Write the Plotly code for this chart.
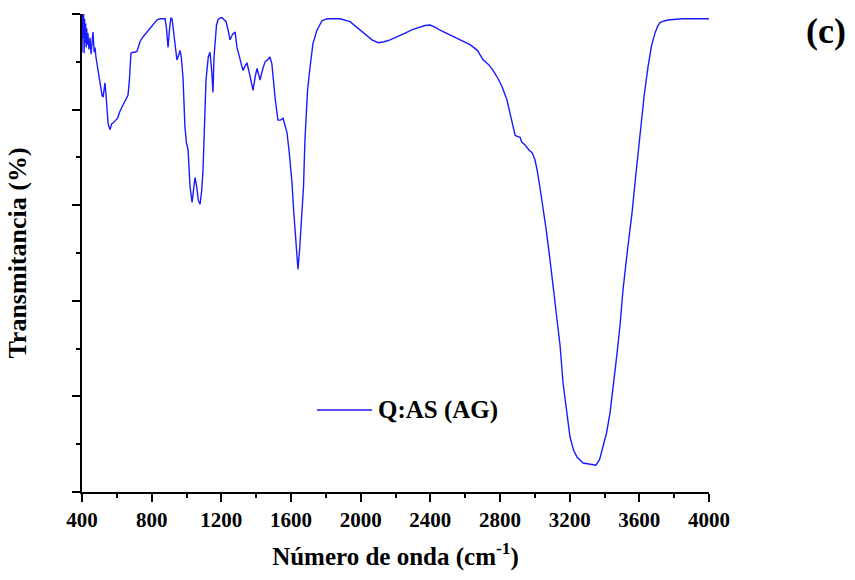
import plotly.graph_objects as go

# FTIR spectrum of Q:AS (AG): wavenumber (cm^-1) and transmittance (a.u.)
wavenumber = [
    400, 403, 406, 409, 412, 415, 418, 421, 424, 427, 430, 434, 440, 446, 452, 458,
    463, 470, 475, 480, 486, 492, 498, 503, 510, 515, 521, 527, 532, 540, 550, 561,
    570, 578, 590, 600, 607, 615, 630, 645, 658, 664, 672, 681, 693, 705, 716, 725,
    733, 750, 773, 800, 831, 850, 877, 885, 894, 903, 910, 917, 930, 945, 955, 963,
    970, 980, 991, 1000, 1009, 1020, 1032, 1040, 1049, 1058, 1068, 1078, 1087, 1095,
    1103, 1112, 1125, 1135, 1145, 1152, 1158, 1164, 1172, 1181, 1195, 1204, 1215,
    1227, 1240, 1250, 1265, 1279, 1290, 1307, 1324, 1335, 1347, 1365, 1382, 1395,
    1405, 1415, 1422, 1437, 1451, 1465, 1479, 1490, 1497, 1510, 1525, 1540, 1554,
    1565, 1577, 1590, 1606, 1615, 1623, 1632, 1640, 1650, 1663, 1672, 1680, 1695,
    1709, 1726, 1749, 1778, 1807, 1850, 1881, 1939, 1980, 2025, 2065, 2100, 2135,
    2169, 2210, 2255, 2300, 2341, 2370, 2398, 2430, 2456, 2513, 2570, 2628, 2670,
    2703, 2735, 2760, 2790, 2812, 2840, 2855, 2869, 2880, 2887, 2900, 2915, 2925,
    2944, 2965, 2984, 3000, 3013, 3030, 3047, 3067, 3087, 3107, 3127, 3145, 3162,
    3182, 3202, 3222, 3242, 3277, 3310, 3351, 3372, 3392, 3412, 3432, 3452, 3472,
    3490, 3506, 3530, 3558, 3580, 3604, 3628, 3650, 3670, 3690, 3705, 3719, 3745,
    3776, 3850, 3950, 4000,
]
transmittance = [
    46.0, 50.0, 47.5, 50.0, 45.9, 49.5, 47.0, 49.0, 46.5, 48.5, 46.8, 48.0, 46.3, 47.5, 45.8, 47.8,
    48.1, 46.0, 46.5, 45.5, 44.8, 44.5, 43.5, 43.3, 42.5, 41.5, 41.3, 42.5, 42.8, 41.0, 38.5, 37.9,
    38.5, 38.6, 38.8, 39.0, 39.2, 39.7, 40.3, 40.8, 41.2, 41.5, 43.0, 45.9, 46.0, 46.0, 46.1, 46.7,
    47.1, 47.6, 48.1, 48.8, 49.4, 49.5, 49.5, 48.5, 46.5, 48.5, 49.6, 49.5, 47.5, 45.2, 45.7, 46.2,
    45.5, 43.3, 38.2, 36.5, 35.8, 32.0, 30.3, 31.5, 32.9, 32.0, 30.5, 30.1, 31.5, 33.7,
    38.0, 43.1, 45.5, 46.0, 44.0, 41.8, 45.5, 47.3, 48.8, 49.4, 49.6, 49.6, 49.4,
    49.2, 48.2, 47.3, 47.9, 48.1, 46.5, 45.2, 44.1, 44.5, 44.9, 43.5, 42.0, 43.5,
    44.3, 43.6, 43.1, 44.2, 45.0, 45.2, 45.5, 44.8, 43.3, 41.0, 38.9, 38.9, 39.1,
    38.3, 37.6, 35.5, 32.3, 29.5, 27.1, 24.5, 23.3, 25.5, 28.8, 32.0, 36.8, 42.0,
    44.4, 46.9, 48.3, 49.3, 49.5, 49.5, 49.5, 49.2, 48.6, 47.9, 47.3, 47.0, 47.1,
    47.3, 47.6, 48.0, 48.4, 48.6, 48.8, 48.85, 48.6, 48.3, 47.8, 47.3, 46.8, 46.2,
    45.2, 44.7, 44.1, 43.2, 42.4, 41.0, 39.8, 38.6, 37.7, 37.3, 37.2, 37.1, 36.6,
    36.3, 35.8, 35.5, 34.8, 33.7, 31.8, 29.8, 27.2, 24.3, 21.3, 18.3, 15.3, 11.4,
    8.3, 5.75, 4.4, 3.66, 3.03, 2.95, 2.8, 3.4, 4.7, 6.2, 8.3, 11.2, 14.5,
    17.6, 21.1, 25.0, 29.2, 33.2, 37.5, 41.5, 44.5, 46.7, 48.0, 48.7, 49.1, 49.3,
    49.4, 49.5, 49.5, 49.5,
]
series_name = "Q:AS (AG)"
x_ticks = [400, 800, 1200, 1600, 2000, 2400, 2800, 3200, 3600, 4000]

FONT = "Liberation Serif"
BLUE = "#1a1aff"

fig = go.Figure()
fig.add_trace(go.Scatter(
    x=wavenumber, y=transmittance, mode="lines",
    line=dict(color=BLUE, width=1.4), name=series_name, showlegend=False,
))

axis_common = dict(showgrid=False, zeroline=False, showline=True,
                   linecolor="black", linewidth=2)

fig.update_layout(
    width=855, height=580,
    margin=dict(l=82, r=146, t=14, b=88),
    plot_bgcolor="white", paper_bgcolor="white",
    xaxis=dict(
        **axis_common, range=[400, 4000], tickvals=x_ticks,
        ticks="outside", ticklen=8, tickwidth=2, tickcolor="black",
        minor=dict(dtick=200, tick0=400, ticks="outside", ticklen=4,
                   tickwidth=1.5, tickcolor="black"),
        tickfont=dict(family=FONT, size=21, color="black", weight="bold"),
        title=dict(text="Número de onda (cm<sup>-1</sup>)", standoff=16,
                   font=dict(family=FONT, size=25, color="black", weight="bold")),
    ),
    yaxis=dict(
        **axis_common, range=[0, 50], dtick=10, tick0=0, showticklabels=False,
        ticks="outside", ticklen=8, tickwidth=2, tickcolor="black",
        minor=dict(dtick=5, tick0=0, ticks="outside", ticklen=4,
                   tickwidth=1.5, tickcolor="black"),
        title=dict(text="Transmitancia (%)", standoff=38,
                   font=dict(family=FONT, size=26, color="black", weight="bold")),
    ),
    # mirrored frame with inward ticks on top and right
    xaxis2=dict(
        **axis_common, overlaying="x", side="top", range=[400, 4000],
        tickvals=x_ticks, showticklabels=False, ticks="inside", ticklen=5,
        tickwidth=1, tickcolor="black",
        minor=dict(dtick=200, tick0=400, ticks="inside", ticklen=3, tickcolor="black"),
    ),
    yaxis2=dict(
        **axis_common, overlaying="y", side="right", range=[0, 50], dtick=10,
        showticklabels=False, ticks="inside", ticklen=5, tickwidth=1,
        tickcolor="black",
        minor=dict(dtick=5, ticks="inside", ticklen=3, tickcolor="black"),
    ),
)

# legend sample and label
fig.add_shape(type="line", xref="paper", yref="paper",
              x0=(317 - 82) / 627, x1=(372 - 82) / 627,
              y0=(492 - 410) / 478, y1=(492 - 410) / 478,
              line=dict(color=BLUE, width=1.4))
fig.add_annotation(text=series_name, xref="paper", yref="paper",
                   x=(376 - 82) / 627, y=(492 - 410) / 478,
                   xanchor="left", yanchor="middle", showarrow=False,
                   font=dict(family=FONT, size=25, color="black", weight="bold"))

# panel label
fig.add_annotation(text="(c)", xref="paper", yref="paper",
                   x=(826 - 82) / 627, y=(492 - 31) / 478,
                   xanchor="center", yanchor="middle", showarrow=False,
                   font=dict(family=FONT, size=36, color="black", weight="bold"))

fig.write_html("out.html")
